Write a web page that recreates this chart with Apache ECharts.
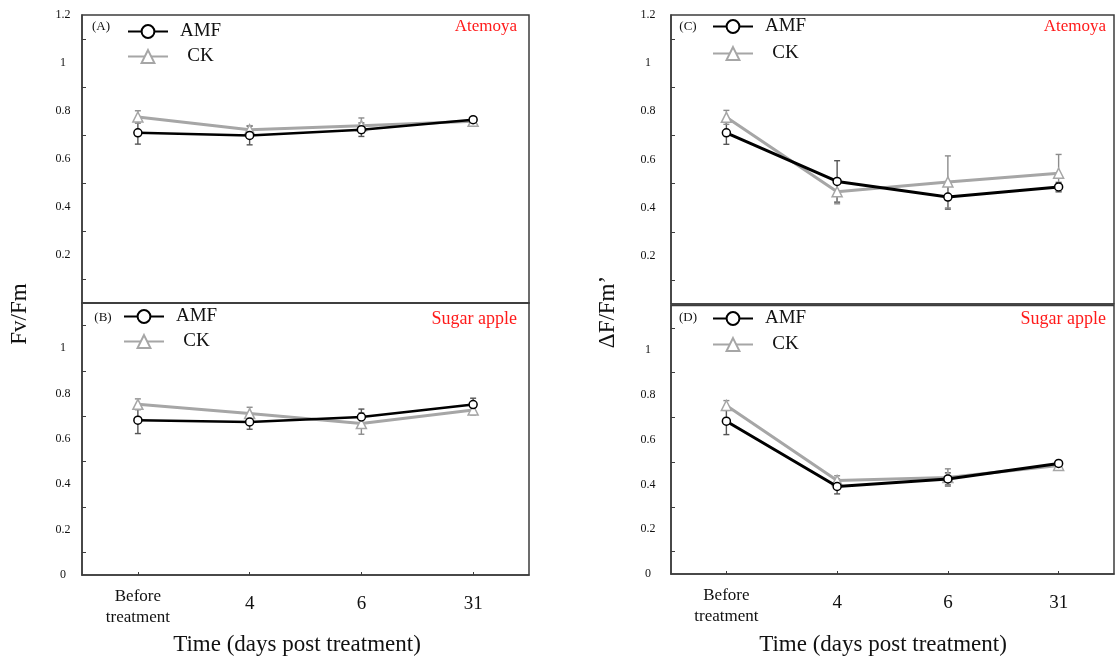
<!DOCTYPE html>
<html>
<head>
<meta charset="utf-8">
<script src="https://cdn.jsdelivr.net/npm/echarts@6/dist/echarts.min.js"></script>
<style>
html,body{margin:0;padding:0;background:#fff;}
#chart{width:1115px;height:659px;}
</style>
</head>
<body>
<div id="chart"></div>
<script>
// ---- data ----
var categories = ['Before\ntreatment', '4', '6', '31'];
// (A) Fv/Fm Atemoya
var A_AMF = [0.709, 0.698, 0.722, 0.764];
var A_AMF_err = [0.047, 0.039, 0.028, 0.010];
var A_CK = [0.775, 0.722, 0.739, 0.757];
var A_CK_err = [0.026, 0.017, 0.032, 0.012];
// (B) Fv/Fm Sugar apple
var B_AMF = [0.683, 0.675, 0.697, 0.752];
var B_AMF_err = [0.059, 0.032, 0.035, 0.028];
var B_CK = [0.753, 0.712, 0.668, 0.728];
var B_CK_err = [0.024, 0.028, 0.047, 0.022];
// (C) ΔF/Fm' Atemoya
var C_AMF = [0.711, 0.509, 0.444, 0.486];
var C_AMF_err = [0.048, 0.086, 0.050, 0.019];
var C_CK = [0.775, 0.466, 0.507, 0.543];
var C_CK_err = [0.029, 0.050, 0.108, 0.078];
// (D) ΔF/Fm' Sugar apple
var D_AMF = [0.683, 0.391, 0.425, 0.494];
var D_AMF_err = [0.060, 0.033, 0.027, 0.012];
var D_CK = [0.753, 0.418, 0.431, 0.485];
var D_CK_err = [0.022, 0.021, 0.039, 0.012];

var yMin = 0, yMax = 1.2, yInterval = 0.2;

// ---- styling ----
var serif = '"Liberation Serif", "DejaVu Serif", serif';
var frame = '#3c3c3c';
var AMF_COLOR = '#000000';
var CK_COLOR = '#a6a6a6';
var AMF_ERR = '#555555';
var CK_ERR = '#8c8c8c';

var grids = [
  {left: 82, top: 15, width: 447, height: 288},
  {left: 82, top: 303, width: 447, height: 272},
  {left: 671, top: 15, width: 443, height: 289},
  {left: 671, top: 305.5, width: 443, height: 268.5}
];
grids.forEach(function (g) {
  g.show = true; g.borderColor = frame; g.borderWidth = 1.5; g.backgroundColor = 'transparent';
  g.containLabel = false;
});

function xAxisFor(i, bottom) {
  return {
    type: 'category', gridIndex: i, data: categories, boundaryGap: true,
    axisLine: {show: true, lineStyle: {color: frame, width: 1.5}},
    axisTick: {show: bottom, inside: true, alignWithLabel: true, length: 3, interval: 0, lineStyle: {color: frame}},
    axisLabel: {
      show: bottom, interval: 0, margin: 32, verticalAlign: 'middle',
      color: '#111', fontFamily: serif, fontSize: 19,
      formatter: function (v) {
        if (v.indexOf('\n') >= 0) {
          return v.split('\n').map(function (s) { return '{b|' + s + '}'; }).join('\n');
        }
        return '{n|' + v + '}';
      },
      rich: {
        b: {fontFamily: serif, fontSize: 17, lineHeight: 21, color: '#111'},
        n: {fontFamily: serif, fontSize: 19, lineHeight: 22, color: '#111', padding: [0, 0, 6, 0]}
      }
    },
    splitLine: {show: false}
  };
}
function yAxisFor(i, top, margin) {
  return {
    type: 'value', gridIndex: i, min: yMin, max: yMax, interval: yInterval,
    axisLine: {show: true, lineStyle: {color: frame, width: 1.5}},
    axisTick: {show: false, inside: true},
    minorTick: {show: true, splitNumber: 2, length: 4, lineStyle: {color: frame, width: 1}},
    axisLabel: {
      margin: margin, align: 'center', color: '#111', fontFamily: serif, fontSize: 12,
      formatter: function (v) {
        if (top && Math.abs(v) < 1e-9) return '';
        if (!top && Math.abs(v - 1.2) < 1e-9) return '';
        return (Math.round(v * 10) / 10).toString();
      }
    },
    splitLine: {show: false}
  };
}

function lineSeries(name, data, idx, isAMF, wide) {
  return {
    name: name, type: 'line', xAxisIndex: idx, yAxisIndex: idx, data: data,
    symbol: isAMF ? 'circle' : 'triangle',
    symbolSize: isAMF ? 8 : 10,
    color: isAMF ? AMF_COLOR : CK_COLOR,
    lineStyle: {color: isAMF ? AMF_COLOR : CK_COLOR, width: isAMF ? (wide ? 3 : 2.5) : 3},
    itemStyle: {color: '#ffffff', borderColor: isAMF ? AMF_COLOR : CK_COLOR, borderWidth: 1.5},
    z: isAMF ? 4 : 3, animation: false
  };
}
function errSeries(name, vals, errs, idx, color) {
  var data = vals.map(function (v, i) { return [i, v - errs[i], v + errs[i]]; });
  return {
    name: name, type: 'custom', xAxisIndex: idx, yAxisIndex: idx, data: data, z: 2,
    animation: false, silent: true,
    encode: {x: 0, y: [1, 2]},
    renderItem: function (params, api) {
      var x = api.value(0);
      var lo = api.coord([x, api.value(1)]);
      var hi = api.coord([x, api.value(2)]);
      var w = 3;
      var st = {stroke: color, lineWidth: 1.4};
      return {
        type: 'group',
        children: [
          {type: 'line', shape: {x1: lo[0], y1: lo[1], x2: hi[0], y2: hi[1]}, style: st},
          {type: 'line', shape: {x1: lo[0] - w, y1: lo[1], x2: lo[0] + w, y2: lo[1]}, style: st},
          {type: 'line', shape: {x1: hi[0] - w, y1: hi[1], x2: hi[0] + w, y2: hi[1]}, style: st}
        ]
      };
    }
  };
}

var panels = [
  [A_AMF, A_AMF_err, A_CK, A_CK_err, false],
  [B_AMF, B_AMF_err, B_CK, B_CK_err, false],
  [C_AMF, C_AMF_err, C_CK, C_CK_err, true],
  [D_AMF, D_AMF_err, D_CK, D_CK_err, true]
];
var series = [];
panels.forEach(function (p, i) {
  series.push(errSeries('AMF error', p[0], p[1], i, AMF_ERR));
  series.push(errSeries('CK error', p[2], p[3], i, CK_ERR));
  series.push(lineSeries('CK', p[2], i, false, p[4]));
  series.push(lineSeries('AMF', p[0], i, true, p[4]));
});

function legendAt(left, top, gap) {
  return {
    left: left, top: top, orient: 'vertical', itemWidth: 40, itemHeight: 16, itemGap: gap,
    data: ['AMF', 'CK'], selectedMode: false,
    formatter: function (n) { return '{c|' + n + '}'; },
    textStyle: {
      rich: {c: {fontFamily: serif, fontSize: 19, color: '#111', width: 55, align: 'center', lineHeight: 20}}
    }
  };
}

var labels = [
  ['(A)', 101, 27, 'Atemoya', 17],
  ['(B)', 103, 318, 'Sugar apple', 18],
  ['(C)', 688, 27, 'Atemoya', 17],
  ['(D)', 688, 318, 'Sugar apple', 18]
];
var graphics = [];
labels.forEach(function (l, i) {
  graphics.push({type: 'text', x: l[1], y: l[2], style: {
    text: l[0], fontFamily: serif, fontSize: 13, fill: '#111', align: 'center', verticalAlign: 'middle'}});
  graphics.push({type: 'text', x: (i < 2 ? 517 : 1106), y: (i % 2 === 0 ? 27 : 319), style: {
    text: l[3], fontFamily: serif, fontSize: l[4], fill: '#ff1a1a', align: 'right', verticalAlign: 'middle'}});
});
graphics.push({type: 'text', x: 20, y: 314, rotation: Math.PI / 2, style: {
  text: 'Fv/Fm', fontFamily: serif, fontSize: 23, fill: '#111', align: 'center', verticalAlign: 'middle'}});
graphics.push({type: 'text', x: 608, y: 312, rotation: Math.PI / 2, style: {
  text: 'ΔF/Fm’', fontFamily: serif, fontSize: 23, fill: '#111', align: 'center', verticalAlign: 'middle'}});
graphics.push({type: 'text', x: 297, y: 645, style: {
  text: 'Time (days post treatment)', fontFamily: serif, fontSize: 23, fill: '#111', align: 'center', verticalAlign: 'middle'}});
graphics.push({type: 'text', x: 883, y: 645, style: {
  text: 'Time (days post treatment)', fontFamily: serif, fontSize: 23, fill: '#111', align: 'center', verticalAlign: 'middle'}});

var chart = echarts.init(document.getElementById('chart'), null, {renderer: 'canvas'});
chart.setOption({
  backgroundColor: '#ffffff',
  animation: false,
  grid: grids,
  xAxis: [xAxisFor(0, false), xAxisFor(1, true), xAxisFor(2, false), xAxisFor(3, true)],
  yAxis: [yAxisFor(0, true, 19), yAxisFor(1, false, 19), yAxisFor(2, true, 23), yAxisFor(3, false, 23)],
  legend: [legendAt(122, 17, 6), legendAt(118, 302, 6), legendAt(707, 12, 8), legendAt(707, 304, 7)],
  graphic: graphics,
  series: series
});
</script>
</body>
</html>
